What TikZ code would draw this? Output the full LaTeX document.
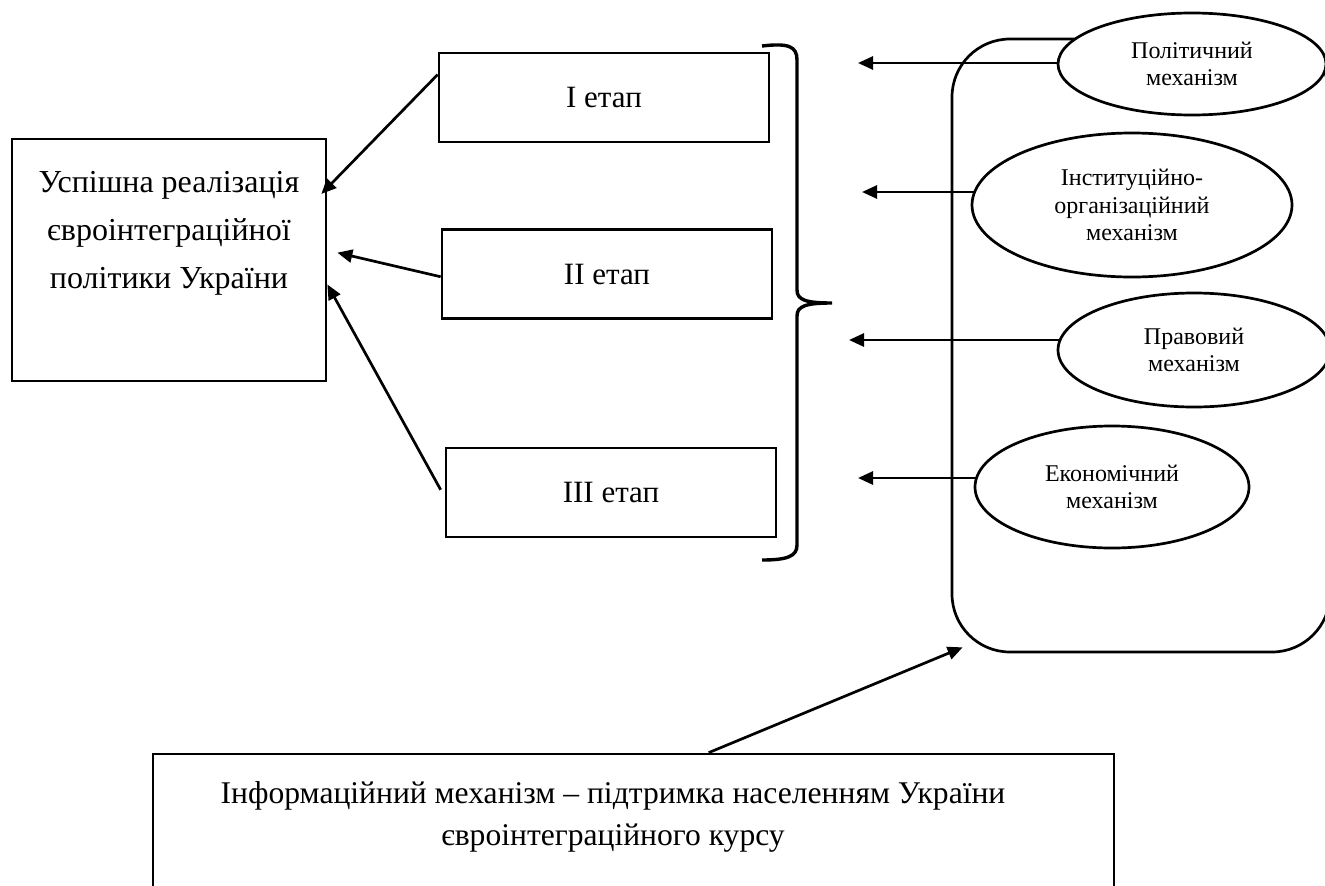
\documentclass[tikz,border=0pt]{standalone}
\usepackage{fontspec}
\setmainfont{Liberation Serif}
\usetikzlibrary{shapes.geometric,arrows.meta,calc}

\begin{document}
\begin{tikzpicture}[x=1pt,y=-1pt,line width=2.7pt,
  boxed/.style={draw,inner sep=0pt,line width=2.7pt},
  stagebox/.style={boxed,minimum width=330pt,minimum height=89pt,
    font=\fontsize{31}{37}\selectfont},
  bigtext/.style={align=center,inner sep=0pt,font=\fontsize{32}{48}\selectfont},
  mech/.style={ellipse,draw,fill=white,inner sep=0pt,align=center,
    line width=2.7pt,font=\fontsize{24}{27.5}\selectfont},
  link/.style={-{Triangle[length=15pt,width=13pt]},line width=2.7pt}]

\useasboundingbox (0,0) rectangle (1325,886);

% goal box on the left
\node[boxed,minimum width=314pt,minimum height=242pt] (goal) at (169,260) {};
\node[bigtext] (goaltxt) at (169,233) {Успішна реалізація\\євроінтеграційної\\політики України};

% stages
\node[stagebox] (s1) at (604,97.5) {I етап};
\node[stagebox] (s2) at (607,274) {II етап};
\node[stagebox] (s3) at (611,492.5) {III етап};

\draw[link] ($(s1.north west)!0.25!(s1.south west)$) -- ($(goal.north east)!0.23!(goal.south east)+(-6,0)$);
\draw[link] ($(s2.north west)!0.53!(s2.south west)$) -- ($(goal.north east)!0.47!(goal.south east)+(10,0)$);
\draw[link] ($(s3.north west)!0.47!(s3.south west)+(-4,0)$) -- ($(goal.north east)!0.60!(goal.south east)$);

% brace grouping the stages
\draw[line width=3.4pt]
  (762,46) .. controls (788,43) and (797,46) .. (797,60)
  -- (797,290) .. controls (797,300) and (806,303) .. (832,303)
  .. controls (806,303) and (797,306) .. (797,316)
  -- (797,545) .. controls (797,556) and (788,560) .. (762,560);

% frame holding the mechanisms
\node[draw,rounded corners=58pt,minimum width=378pt,minimum height=613pt,inner sep=0pt]
  (frame) at (1141,345.5) {};

% arrow targets near the brace
\coordinate (t1) at (858,63);
\coordinate (t2) at (862,192);
\coordinate (t3) at (849,340);
\coordinate (t4) at (858,478);

\draw[link] (1062,63) -- (t1);
\draw[link] (974,192) -- (t2);
\draw[link] (1060,340) -- (t3);
\draw[link] (977,478) -- (t4);

% mechanisms
\node[mech,minimum width=268pt,minimum height=102pt] (pol) at (1192,64) {Політичний\\механізм};
\node[mech,minimum width=320pt,minimum height=144pt] (inst) at (1132,205) {Інституційно-\\організаційний\\механізм};
\node[mech,minimum width=272pt,minimum height=114pt] (prav) at (1194,350) {Правовий\\механізм};
\node[mech,minimum width=274pt,minimum height=122pt] (econ) at (1112,487) {Економічний\\механізм};

% information mechanism
\node[boxed,minimum width=961pt,minimum height=146pt] (info) at (633.5,827) {};
\node[align=center,inner sep=0pt,font=\fontsize{31.6}{42}\selectfont] (infotxt) at (613,817)
  {Інформаційний механізм – підтримка населенням України\\євроінтеграційного курсу};

\draw[link] ($(info.north west)!0.578!(info.north east)$) -- ($(frame.south west)+(12,-6)$);
\end{tikzpicture}
\end{document}
